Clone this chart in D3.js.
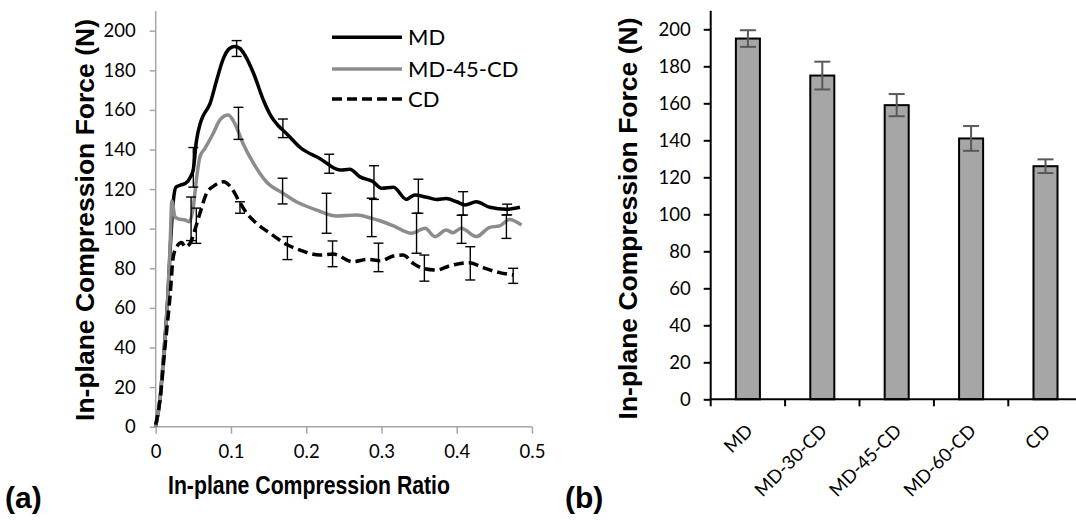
<!DOCTYPE html>
<html><head><meta charset="utf-8">
<script src="https://cdn.jsdelivr.net/npm/d3@7"></script>
<style>body{margin:0;background:#fff}</style></head>
<body>
<svg id="c" width="1076" height="520"></svg>
<script>
// ---------- (a) curves ----------
const mdX = [0,0.006,0.011,0.016,0.02,0.0234,0.027,0.033,0.04,0.046,0.05,0.054,0.059,0.063,0.072,0.081,0.09,0.098,0.105,0.112,0.118,0.13,0.143,0.153,0.163,0.174,0.192,0.218,0.245,0.258,0.271,0.289,0.300,0.316,0.333,0.344,0.360,0.373,0.386,0.400,0.411,0.426,0.444,0.466,0.484];
const mdY = [0,15,38,65,95,114,121,122,123,126,130,144,153,157,163,175,186,191,192,191,188,178.5,165,157,152,148,141,135.5,129.6,130,126.3,123.7,120.4,120.9,114.8,117,115.9,114.8,115.3,113.6,112,113.6,110.8,109.8,110.8];
const m45X = [0,0.006,0.011,0.016,0.019,0.0215,0.0256,0.03,0.039,0.0446,0.05,0.054,0.0588,0.0655,0.0765,0.0854,0.0964,0.105,0.116,0.13,0.147,0.169,0.187,0.214,0.24,0.267,0.287,0.298,0.316,0.34,0.358,0.371,0.386,0.395,0.406,0.426,0.444,0.457,0.47,0.486];
const m45Y = [0,15,38,65,90,114,106,105,104.4,103.5,111,124.6,136.4,140.6,148.2,155,157.4,153.2,143,133,123.7,117.9,113.6,109.4,106.4,106.9,105.2,104,101.4,97.7,100.2,96,99.3,98,100.2,96,100.7,101.4,104.7,101.9];
const cdX = [0,0.0057,0.0124,0.019,0.0234,0.028,0.0345,0.039,0.0456,0.052,0.0588,0.0677,0.0788,0.0898,0.101,0.11,0.121,0.134,0.152,0.174,0.192,0.218,0.236,0.262,0.282,0.298,0.316,0.329,0.342,0.355,0.373,0.391,0.417,0.435,0.457,0.475];
const cdY = [1,13.5,40.4,65.7,85.9,90.9,93,90.9,92.6,99.3,107.8,117.9,122,123.7,120.4,114.5,107.8,102.7,97.7,92,89.2,86.7,87.2,83.3,84.5,83.8,86.2,86.7,82.5,80,79.1,81.3,82.8,80.3,77.8,76.6];
// error bars (position, centre, half-range)
const mdErrX = [0.05,0.1075,0.169,0.2306,0.29,0.349,0.4085,0.467];
const mdErrY = [131,191,150.7,132.8,123.3,116.4,112.8,109.7];
const mdErrD = [10,4,4.7,4.8,8.5,8.6,5.9,2.7];
const m45ErrX = [0.047,0.11,0.1686,0.227,0.287,0.3466,0.4064,0.466];
const m45ErrY = [105,153.2,119,107.8,105.7,97.7,99.7,101];
const m45ErrD = [11,8.1,6.5,10.1,9.7,10.1,7.1,5.9];
const cdErrX = [0.054,0.112,0.175,0.235,0.296,0.357,0.418,0.475];
const cdErrY = [101.5,110.7,90.2,87.3,85.5,80.1,82.5,76.2];
const cdErrD = [8.9,2.9,5.8,6.5,7.2,6.6,8.4,3.8];
const seriesNames = ["MD","MD-45-CD","CD"];
const xTicksA = [0,0.1,0.2,0.3,0.4,0.5];
const yTicks = [0,20,40,60,80,100,120,140,160,180,200];
// ---------- (b) bars ----------
const cats = ["MD","MD-30-CD","MD-45-CD","MD-60-CD","CD"];
const barVals = [195,175,159,141,126];
const barErr = [4.5,7.5,6,6.7,3.7];

const svg = d3.select("#c");
const tickFont = "Lato, 'Open Sans', sans-serif";
const titleFont = "'Liberation Sans', Arial, sans-serif";

// ===== Panel (a) =====
const xA = d3.scaleLinear().domain([0,0.5]).range([155.7,532]);
const yA = d3.scaleLinear().domain([0,210]).range([426.7,10.9]);
const gA = svg.append("g");

const axY = gA.append("g").attr("transform","translate(155.7,0)")
  .call(d3.axisLeft(yA).tickValues(yTicks).tickSize(6).tickPadding(14).tickFormat(d3.format("d")));
const axX = gA.append("g").attr("transform","translate(0,426.7)")
  .call(d3.axisBottom(xA).tickValues(xTicksA).tickSize(7).tickPadding(11).tickFormat(d=> d===0?"0":d3.format(".1f")(d)));
[axY,axX].forEach(a=>{
  a.select(".domain").attr("stroke","#a6a6a6").attr("stroke-width",1.5);
  a.selectAll(".tick line").attr("stroke","#a6a6a6").attr("stroke-width",1.5);
  a.selectAll("text").attr("font-family",tickFont).attr("font-size",18.5).attr("fill","#000");
});
axY.select(".domain").attr("d",`M-0,${yA(210)}V${yA(0)}`);
axX.select(".domain").attr("d",`M${xA(0)},0H${xA(0.5)}`);

const line = d3.line().x(d=>xA(d[0])).y(d=>yA(d[1])).curve(d3.curveMonotoneX);
const zip = (a,b)=>a.map((v,i)=>[v,b[i]]);
const series = [
  {x:mdX,y:mdY,ex:mdErrX,ey:mdErrY,ed:mdErrD,color:"#000",dash:null},
  {x:m45X,y:m45Y,ex:m45ErrX,ey:m45ErrY,ed:m45ErrD,color:"#8c8c8c",dash:null},
  {x:cdX,y:cdY,ex:cdErrX,ey:cdErrY,ed:cdErrD,color:"#000",dash:"10,5"}
];
series.forEach(s=>{
  gA.append("path").datum(zip(s.x,s.y)).attr("d",line)
    .attr("fill","none").attr("stroke",s.color).attr("stroke-width",3.5)
    .attr("stroke-linejoin","round").attr("stroke-dasharray",s.dash);
});
series.forEach(s=>{
  const eg = gA.append("g").attr("stroke","#000").attr("stroke-width",1.4);
  s.ex.forEach((xv,i)=>{
    const cx = xA(xv), t = yA(s.ey[i]+s.ed[i]), b = yA(s.ey[i]-s.ed[i]);
    eg.append("line").attr("x1",cx).attr("x2",cx).attr("y1",t).attr("y2",b);
    eg.append("line").attr("x1",cx-5).attr("x2",cx+5).attr("y1",t).attr("y2",t);
    eg.append("line").attr("x1",cx-5).attr("x2",cx+5).attr("y1",b).attr("y2",b);
  });
});
// legend
const legY = [37.3,69,99];
series.forEach((s,i)=>{
  gA.append("line").attr("x1",332).attr("x2",402).attr("y1",legY[i]).attr("y2",legY[i])
    .attr("stroke",s.color).attr("stroke-width",3.5).attr("stroke-dasharray",s.dash);
  gA.append("text").attr("x",408).attr("y",legY[i]+8).text(seriesNames[i])
    .attr("font-family",tickFont).attr("font-size",22).attr("fill","#000");
});
// titles
gA.append("text").attr("transform","translate(94,220) rotate(-90)").attr("text-anchor","middle")
  .attr("font-family",titleFont).attr("font-weight","bold").attr("font-size",26.5)
  .text("In-plane Compression Force (N)");
gA.append("text").attr("x",168).attr("y",494)
  .attr("textLength",282).attr("lengthAdjust","spacingAndGlyphs")
  .attr("font-family",titleFont).attr("font-weight","bold").attr("font-size",26.5)
  .text("In-plane Compression Ratio");
gA.append("text").attr("x",5).attr("y",508)
  .attr("font-family",titleFont).attr("font-weight","bold").attr("font-size",30).text("(a)");

// ===== Panel (b) =====
const xB = d3.scaleBand().domain(cats).range([710.7,1082.7]).paddingInner(0.677).paddingOuter(0.3385);
const yB = d3.scaleLinear().domain([0,210]).range([399.3,10.8]);
const gB = svg.append("g");
gB.selectAll("rect.bar").data(cats).join("rect").attr("class","bar")
  .attr("x",d=>xB(d)).attr("width",xB.bandwidth())
  .attr("y",(d,i)=>yB(barVals[i])).attr("height",(d,i)=>yB(0)-yB(barVals[i]))
  .attr("fill","#a6a6a6").attr("stroke","#000").attr("stroke-width",2);
const ebg = gB.append("g").attr("stroke","#595959").attr("stroke-width",2);
cats.forEach((c,i)=>{
  const cx = xB(c)+xB.bandwidth()/2, t=yB(barVals[i]+barErr[i]), b=yB(barVals[i]-barErr[i]);
  ebg.append("line").attr("x1",cx).attr("x2",cx).attr("y1",t).attr("y2",b);
  ebg.append("line").attr("x1",cx-8).attr("x2",cx+8).attr("y1",t).attr("y2",t);
  ebg.append("line").attr("x1",cx-8).attr("x2",cx+8).attr("y1",b).attr("y2",b);
});
const ayB = gB.append("g").attr("transform","translate(710.7,0)")
  .call(d3.axisLeft(yB).tickValues(yTicks).tickSize(7).tickPadding(13).tickFormat(d3.format("d")));
ayB.select(".domain").attr("d",`M0,${yB(210)}V${yB(0)}`).attr("stroke","#000").attr("stroke-width",2);
ayB.selectAll(".tick line").attr("stroke","#000").attr("stroke-width",2);
ayB.selectAll("text").attr("font-family",tickFont).attr("font-size",18.5).attr("fill","#000");
// x axis with boundary ticks
const axB = gB.append("g");
axB.append("line").attr("x1",710.7).attr("x2",xB.range()[1]).attr("y1",yB(0)).attr("y2",yB(0))
  .attr("stroke","#000").attr("stroke-width",2);
d3.range(cats.length+1).forEach(i=>{
  const bx = xB.range()[0] + i*xB.step();
  axB.append("line").attr("x1",bx).attr("x2",bx).attr("y1",yB(0)).attr("y2",yB(0)+7)
    .attr("stroke","#000").attr("stroke-width",2);
});
cats.forEach(c=>{
  const cx = xB(c)+xB.bandwidth()/2;
  axB.append("text").attr("transform",`translate(${cx+6},${432}) rotate(-45)`)
    .attr("text-anchor","end").attr("font-family",tickFont).attr("font-size",18.5).attr("fill","#000").text(c);
});
gB.append("text").attr("transform","translate(637,218.5) rotate(-90)").attr("text-anchor","middle")
  .attr("font-family",titleFont).attr("font-weight","bold").attr("font-size",26.5)
  .text("In-plane Compression Force (N)");
gB.append("text").attr("x",565).attr("y",508)
  .attr("font-family",titleFont).attr("font-weight","bold").attr("font-size",30).text("(b)");
</script>
</body></html>
